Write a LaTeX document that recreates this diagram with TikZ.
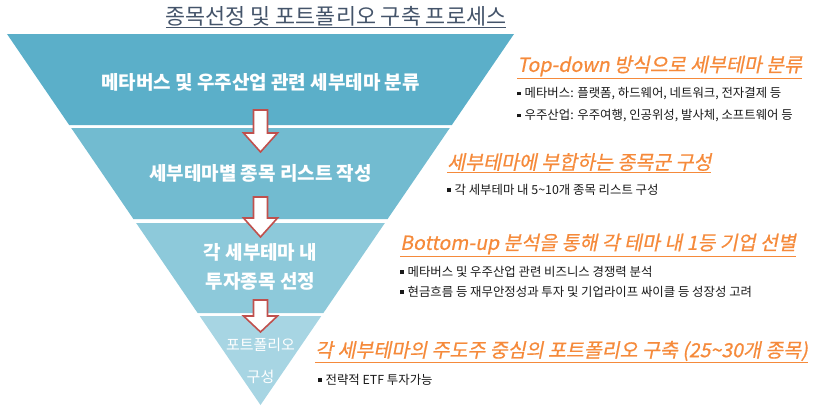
\documentclass[tikz,border=0pt]{standalone}
\usepackage{fontspec}
\setmainfont{Noto Sans CJK KR}
\newfontfamily\slantfont[FakeSlant=0.2,FakeBold=0.6]{Noto Sans CJK KR}
\definecolor{titlecol}{HTML}{44546A}
\definecolor{bandA}{HTML}{5BAFC9}
\definecolor{bandB}{HTML}{72BBD0}
\definecolor{bandC}{HTML}{8DC9DA}
\definecolor{bandD}{HTML}{A7D5E3}
\definecolor{arrowred}{HTML}{C0504D}
\definecolor{hdrorange}{HTML}{F58A3B}
\newcommand\bul{\rule[0.2em]{0.3em}{0.3em}\hspace{0.3em}}
\begin{document}
\begin{tikzpicture}[x=1pt, y=-1pt,
	bandtext/.style={text=white, font=\bfseries\fontsize{19}{23}\selectfont, align=center},
	hdr/.style={anchor=west, inner sep=0pt, text=hdrorange, font=\slantfont\fontsize{19.5}{23}\selectfont},
	item/.style={anchor=west, inner sep=0pt, text=black!90, font=\fontsize{12.4}{15}\selectfont},
	arrowbox/.style={fill=white, draw=arrowred, line width=1.6pt, line join=miter}]
	\useasboundingbox (0,0) rectangle (825,405);
	% funnel bands
	\foreach \ya/\yb/\col in {34/125/bandA, 128/219/bandB, 223/313/bandC, 316/405/bandD}{
		\pgfmathsetmacro\wa{0.6833*(405-\ya)}
		\pgfmathsetmacro\wb{0.6833*(405-\yb)}
		\fill[\col] (260.5-\wa,\ya) -- (260.5+\wa,\ya) -- (260.5+\wb,\yb) -- (260.5-\wb,\yb) -- cycle;
	}
	% arrows between bands
	\foreach \ytop/\yhead/\ytip in {110/133/152, 197/218/237, 300/316/332}{
		\draw[arrowbox] (253.5,\ytop) -- (267.5,\ytop) -- (267.5,\yhead) -- (277.5,\yhead)
			-- (260.5,\ytip) -- (243.5,\yhead) -- (253.5,\yhead) -- cycle;
	}
	\node[text=titlecol, font=\fontsize{21.8}{25}\selectfont, inner sep=0pt] (title) at (336,17) {\underline{종목선정 및 포트폴리오 구축 프로세스}};
	\node[bandtext] (band1) at (260.5,82) {메타버스 및 우주산업 관련 세부테마 분류};
	\node[bandtext] (band2) at (260.5,173) {세부테마별 종목 리스트 작성};
	\node[bandtext] (band3a) at (260.5,252) {각 세부테마 내};
	\node[bandtext] (band3b) at (260.5,281) {투자종목 선정};
	\node[text=white, font=\fontsize{15}{18}\selectfont] (band4a) at (260.5,345) {포트폴리오};
	\node[text=white, font=\fontsize{15}{18}\selectfont] (band4b) at (260.5,377) {구성};
	% descriptions
	\node[hdr] (hdr1) at (517,67) {\underline{Top-down 방식으로 세부테마 분류}};
	\node[item] (item1a) at (517,94) {\bul 메타버스: 플랫폼, 하드웨어, 네트워크, 전자결제 등};
	\node[item] (item1b) at (517,116) {\bul 우주산업: 우주여행, 인공위성, 발사체, 소프트웨어 등};
	\node[hdr] (hdr2) at (447,163) {\underline{세부테마에 부합하는 종목군 구성}};
	\node[item] (item2a) at (447,190) {\bul 각 세부테마 내 5\textasciitilde10개 종목 리스트 구성};
	\node[hdr] (hdr3) at (400,245) {\underline{Bottom-up 분석을 통해 각 테마 내 1등 기업 선별}};
	\node[item] (item3a) at (400,272) {\bul 메타버스 및 우주산업 관련 비즈니스 경쟁력 분석};
	\node[item] (item3b) at (400,292) {\bul 현금흐름 등 재무안정성과 투자 및 기업라이프 싸이클 등 성장성 고려};
	\node[hdr] (hdr4) at (315,352) {\underline{각 세부테마의 주도주 중심의 포트폴리오 구축 (25\textasciitilde30개 종목)}};
	\node[item] (item4a) at (318,380) {\bul 전략적 ETF 투자가능};
\end{tikzpicture}
\end{document}
